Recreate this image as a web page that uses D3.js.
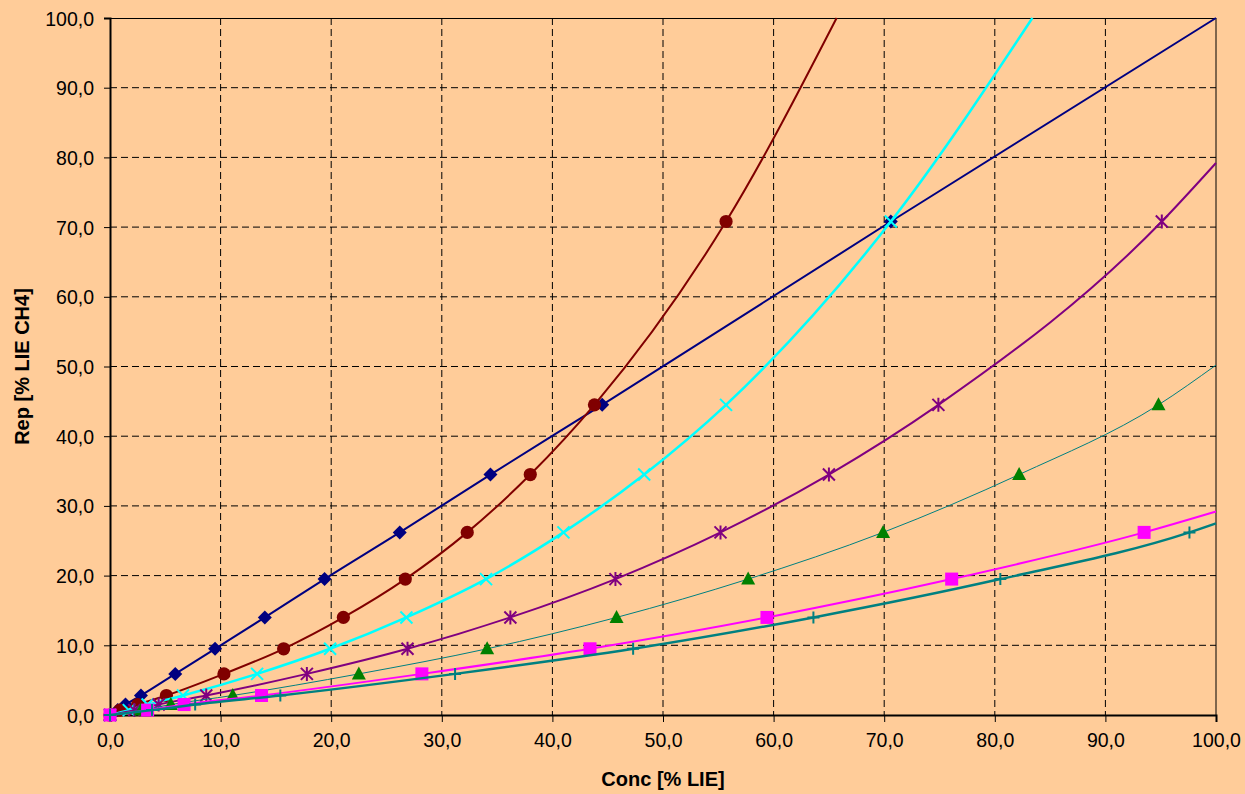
<!DOCTYPE html>
<html>
<head>
<meta charset="utf-8">
<script src="https://cdn.jsdelivr.net/npm/d3@7"></script>
<style>
  html, body { margin: 0; padding: 0; background: #FFCC99; }
  svg { display: block; font-family: "Liberation Sans", Arial, sans-serif; }
</style>
</head>
<body>
<svg id="chart" width="1245" height="794"></svg>
<script>
// Response levels [% LIE CH4] shared by every series (each series uses the first n levels)
const repLevels = [0, 0.7, 1.5, 2.8, 5.9, 9.5, 14.0, 19.5, 26.2, 34.5, 44.5, 70.8];

// Concentration [% LIE] at each response level, per gas
const concDiamond  = [0, 0.7, 1.4, 2.8, 5.9, 9.5, 14.0, 19.4, 26.2, 34.4, 44.5, 70.6];
const concCircle   = [0, 0.9, 2.5, 5.1, 10.3, 15.7, 21.1, 26.7, 32.3, 38.0, 43.8, 55.7];
const concCross    = [0, 1.7, 3.4, 6.6, 13.3, 19.9, 26.8, 34.0, 41.0, 48.3, 55.7, 70.6];
const concStar     = [0, 2.2, 4.4, 8.7, 17.8, 26.9, 36.2, 45.7, 55.2, 65.0, 74.9, 95.1];
const concTriangle = [0, 2.8, 5.5, 11.1, 22.5, 34.1, 45.8, 57.7, 69.9, 82.2, 94.8];
const concSquare   = [0, 3.4, 6.7, 13.7, 28.2, 43.4, 59.4, 76.1, 93.5];
const concPlus     = [0, 3.8, 7.7, 15.4, 31.2, 47.3, 63.6, 80.5, 97.6];

// Where each fitted curve leaves the plot area
const curveEndConc = [100, 65.7, 83.4, 100, 100, 100, 100];
const curveEndRep  = [100, 100, 100, 79.2, 50.2, 29.2, 27.5];

// Axis ticks
const xTicks = [0, 10, 20, 30, 40, 50, 60, 70, 80, 90, 100];
const yTicks = [0, 10, 20, 30, 40, 50, 60, 70, 80, 90, 100];

const seriesConc = [concDiamond, concCircle, concCross, concStar, concTriangle, concSquare, concPlus];
const styles = [
  { marker: "diamond",  color: "#000080", line: "#000080", lw: 2 },
  { marker: "circle",   color: "#800000", line: "#800000", lw: 2 },
  { marker: "cross",    color: "#00FFFF", line: "#00FFFF", lw: 2.5 },
  { marker: "star",     color: "#800080", line: "#800080", lw: 2 },
  { marker: "triangle", color: "#008000", line: "#008080", lw: 1 },
  { marker: "square",   color: "#FF00FF", line: "#FF00FF", lw: 2 },
  { marker: "plus",     color: "#008080", line: "#008080", lw: 2.5 }
];

const W = 1245, H = 794;
const margin = { left: 110, right: 29, top: 18, bottom: 79 };
const iw = W - margin.left - margin.right;
const ih = H - margin.top - margin.bottom;

const svg = d3.select("#chart");
svg.append("rect").attr("width", W).attr("height", H).attr("fill", "#FFCC99");

const g = svg.append("g").attr("transform", `translate(${margin.left},${margin.top})`);

const x = d3.scaleLinear().domain([0, 100]).range([0, iw]);
const y = d3.scaleLinear().domain([0, 100]).range([ih, 0]);

const locale = d3.formatLocale({ decimal: ",", thousands: ".", grouping: [3], currency: ["", "€"] });
const fmt = locale.format(".1f");

// Dashed gridlines
g.append("g").selectAll("line").data(xTicks.filter(d => d > 0 && d < 100)).join("line")
  .attr("x1", d => x(d)).attr("x2", d => x(d)).attr("y1", 0).attr("y2", ih)
  .attr("stroke", "#000").attr("stroke-width", 1).attr("stroke-dasharray", "7,4");
g.append("g").selectAll("line").data(yTicks.filter(d => d > 0 && d < 100)).join("line")
  .attr("y1", d => y(d)).attr("y2", d => y(d)).attr("x1", 0).attr("x2", iw)
  .attr("stroke", "#000").attr("stroke-width", 1).attr("stroke-dasharray", "7,4");

// Plot frame (top and right)
g.append("line").attr("x1", 0).attr("x2", iw).attr("y1", 0.5).attr("y2", 0.5)
  .attr("stroke", "#000").attr("stroke-width", 1);
g.append("line").attr("x1", iw).attr("x2", iw).attr("y1", 0).attr("y2", ih)
  .attr("stroke", "#000").attr("stroke-width", 1);

// Axes
const xAxis = g.append("g").attr("transform", `translate(0,${ih})`)
  .call(d3.axisBottom(x).tickValues(xTicks).tickFormat(fmt).tickSize(7).tickPadding(11));
const yAxis = g.append("g")
  .call(d3.axisLeft(y).tickValues(yTicks).tickFormat(fmt).tickSize(6).tickPadding(10));
[xAxis, yAxis].forEach(a => {
  a.select(".domain").attr("stroke", "#000").attr("stroke-width", 2);
  a.selectAll(".tick line").attr("stroke", "#000").attr("stroke-width", 1);
  a.selectAll(".tick text").attr("fill", "#000").style("font-size", "19.5px")
    .style("font-family", "'Liberation Sans', Arial, sans-serif");
});
yAxis.selectAll(".tick text").attr("dy", "0.36em");

// Axis titles
svg.append("text").attr("x", margin.left + iw / 2).attr("y", 786)
  .attr("text-anchor", "middle").style("font-size", "20px").style("font-weight", "bold")
  .text("Conc [% LIE]");
svg.append("text").attr("transform", `translate(29,${margin.top + ih / 2}) rotate(-90)`)
  .attr("text-anchor", "middle").style("font-size", "20px").style("font-weight", "bold")
  .text("Rep [% LIE CH4]");

// Marker shapes
function drawMarker(sel, type, color) {
  const s = 6;
  switch (type) {
    case "diamond":
      sel.append("path").attr("d", "M0,-7L7,0L0,7L-7,0Z").attr("fill", color);
      break;
    case "circle":
      sel.append("circle").attr("r", 6.6).attr("fill", color);
      break;
    case "square":
      sel.append("rect").attr("x", -6.5).attr("y", -6.5).attr("width", 13).attr("height", 13).attr("fill", color);
      break;
    case "triangle":
      sel.append("path").attr("d", "M0,-7.5L7,5.5L-7,5.5Z").attr("fill", color);
      break;
    case "cross":
      sel.append("path").attr("d", `M${-s},${-s}L${s},${s}M${-s},${s}L${s},${-s}`)
        .attr("stroke", color).attr("stroke-width", 2).attr("fill", "none");
      break;
    case "star":
      sel.append("path").attr("d", `M${-s},${-s}L${s},${s}M${-s},${s}L${s},${-s}M0,${-s - 1}L0,${s + 1}`)
        .attr("stroke", color).attr("stroke-width", 2).attr("fill", "none");
      break;
    case "plus":
      sel.append("path").attr("d", `M${-s},0L${s},0M0,${-s}L0,${s}`)
        .attr("stroke", color).attr("stroke-width", 2).attr("fill", "none");
      break;
  }
}

const lineGen = d3.line().x(d => x(d[0])).y(d => y(d[1])).curve(d3.curveMonotoneX);

seriesConc.forEach((conc, i) => {
  const st = styles[i];
  const pts = conc.map((c, k) => [c, repLevels[k]]);
  const curvePts = pts.concat([[curveEndConc[i], curveEndRep[i]]]);
  const sg = g.append("g");
  sg.append("path").datum(curvePts).attr("d", lineGen)
    .attr("fill", "none").attr("stroke", st.line).attr("stroke-width", st.lw);
  sg.selectAll("g.m").data(pts).join("g").attr("class", "m")
    .attr("transform", d => `translate(${x(d[0])},${y(d[1])})`)
    .each(function () { drawMarker(d3.select(this), st.marker, st.color); });
});
</script>
</body>
</html>
